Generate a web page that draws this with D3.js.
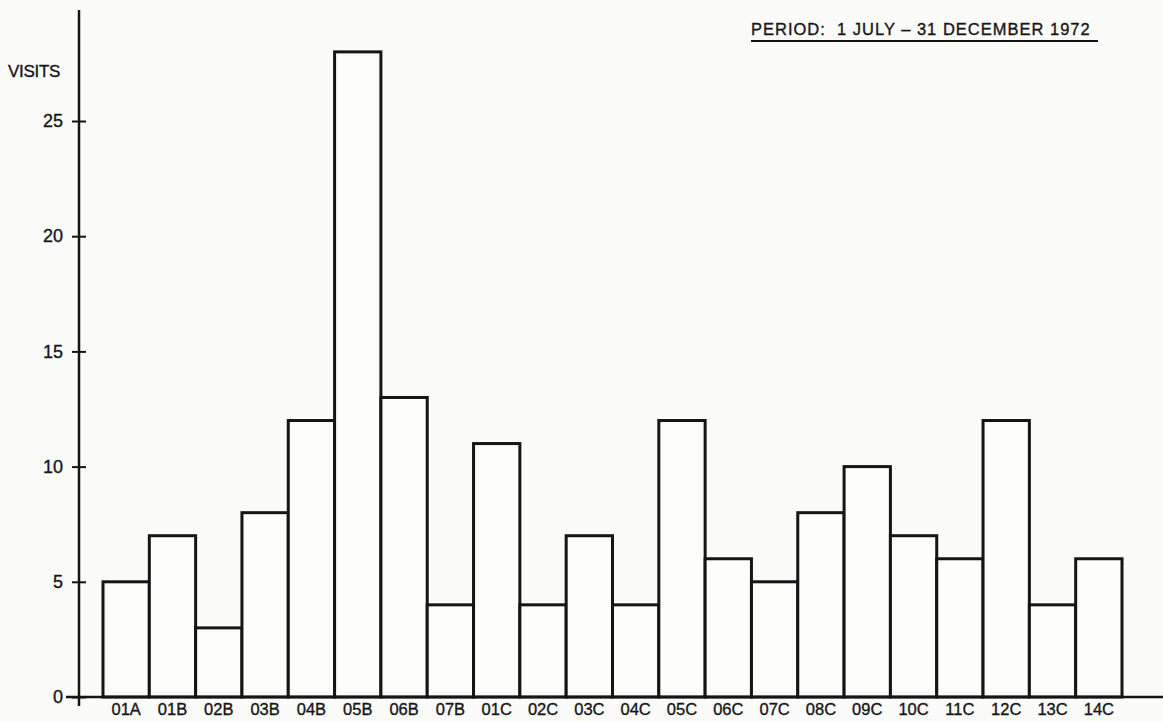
<!DOCTYPE html>
<html>
<head>
<meta charset="utf-8">
<script src="https://cdn.jsdelivr.net/npm/d3@7"></script>
<style>
  body { margin: 0; background: #fbfbfa; }
  svg { display: block; }
  text { font-family: "Liberation Sans", "DejaVu Sans", sans-serif; fill: #161616; }
  .heavy { stroke: #161616; stroke-width: 0.35px; }
</style>
</head>
<body>
<div id="chart"></div>
<script>
// visits per array
const arrays = ["01A", "01B", "02B", "03B", "04B", "05B", "06B", "07B",
                "01C", "02C", "03C", "04C", "05C", "06C", "07C", "08C",
                "09C", "10C", "11C", "12C", "13C", "14C"];
const visits = [5, 7, 3, 8, 12, 28, 13, 4,
                11, 4, 7, 4, 12, 6, 5, 8,
                10, 7, 6, 12, 4, 6];
const yTicks = [0, 5, 10, 15, 20, 25];
const periodLabel = "PERIOD:  1 JULY \u2013 31 DECEMBER 1972";
const yLabel = "VISITS";

const W = 1163, H = 722;
const margin = {left: 79, bottom: 25, axisTop: 10};
const ink = "#151515";

const svg = d3.select("#chart").append("svg")
    .attr("width", W)
    .attr("height", H);

const data = arrays.map((a, i) => ({array: a, visits: visits[i]}));

const x = d3.scaleBand()
    .domain(arrays)
    .range([103, 1122])
    .padding(0);

const y = d3.scaleLinear()
    .domain([0, 25])
    .range([H - margin.bottom, 121]);

// bars (open rectangles)
svg.selectAll(".bar")
    .data(data)
    .join("rect")
    .attr("class", "bar")
    .attr("x", d => x(d.array))
    .attr("y", d => y(d.visits))
    .attr("width", x.bandwidth())
    .attr("height", d => y(0) - y(d.visits))
    .attr("fill", "#fdfdfc")
    .attr("stroke", ink)
    .attr("stroke-width", 3);

// x axis line runs to the page edge
svg.append("line")
    .attr("x1", 66).attr("x2", W)
    .attr("y1", y(0)).attr("y2", y(0))
    .attr("stroke", ink).attr("stroke-width", 2.5);

// y axis line, extended above the last tick
svg.append("line")
    .attr("x1", margin.left).attr("x2", margin.left)
    .attr("y1", margin.axisTop).attr("y2", y(0) + 9)
    .attr("stroke", ink).attr("stroke-width", 2.5);

const yAxis = svg.append("g")
    .attr("transform", `translate(${margin.left},0)`)
    .call(d3.axisLeft(y).tickValues(yTicks).tickSize(7).tickPadding(6));

yAxis.select(".domain").remove();
yAxis.selectAll(".tick line")
    .attr("x1", 7)
    .attr("x2", -7)
    .attr("stroke", ink)
    .attr("stroke-width", 2);
yAxis.selectAll(".tick text")
    .attr("class", "heavy")
    .attr("x", -16)
    .style("font-size", "18px")
    .style("font-family", "\"Liberation Sans\", sans-serif")
    .attr("fill", ink);

// category labels
const xAxis = svg.append("g")
    .attr("transform", `translate(0,${y(0)})`)
    .call(d3.axisBottom(x).tickSize(0).tickPadding(5));

xAxis.select(".domain").remove();
xAxis.selectAll(".tick text")
    .attr("class", "heavy")
    .attr("dy", 0)
    .attr("y", 18)
    .style("font-size", "16.5px")
    .style("font-family", "\"Liberation Sans\", sans-serif")
    .attr("fill", ink);

svg.append("text")
    .attr("class", "heavy")
    .attr("x", 8)
    .attr("y", 77)
    .style("font-size", "17px")
    .style("letter-spacing", "-0.3px")
    .text(yLabel);

// period heading with underline
const period = svg.append("text")
    .attr("class", "heavy")
    .attr("x", 751)
    .attr("y", 35)
    .style("font-size", "16.5px")
    .style("letter-spacing", "1px")
    .style("white-space", "pre")
    .text(periodLabel);

const pb = period.node().getBBox();
svg.append("line")
    .attr("x1", pb.x).attr("x2", 1098)
    .attr("y1", 41).attr("y2", 41)
    .attr("stroke", ink).attr("stroke-width", 2);
</script>
</body>
</html>
